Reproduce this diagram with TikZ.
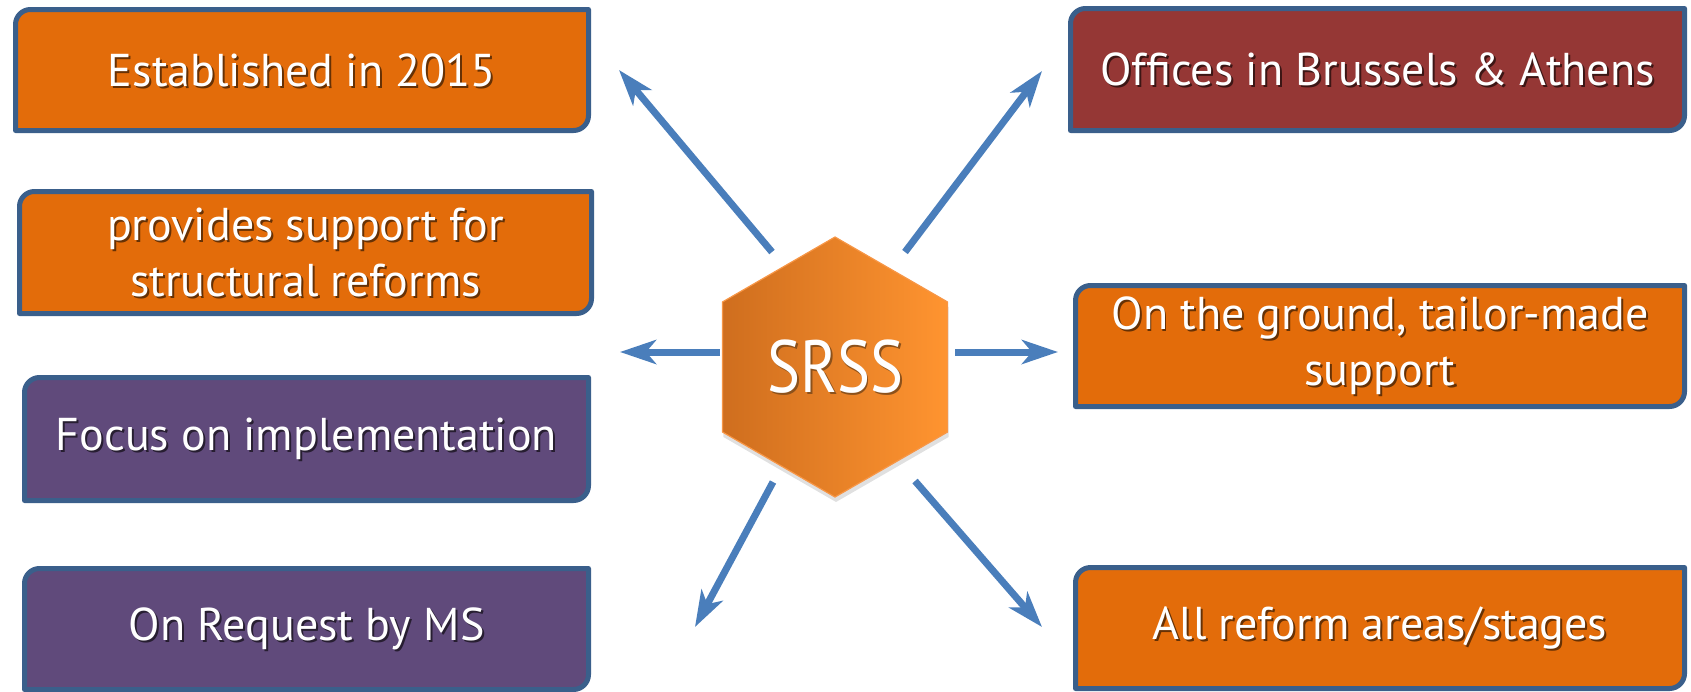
\documentclass[tikz,border=0pt]{standalone}
\usepackage{fontspec}
\setmainfont{PT Sans}
\usetikzlibrary{arrows.meta,backgrounds}
\definecolor{boxorange}{HTML}{E36C0A}
\definecolor{boxpurple}{HTML}{604A7B}
\definecolor{boxred}{HTML}{953735}
\definecolor{boxline}{HTML}{3A5F8B}
\definecolor{arrowblue}{HTML}{4A7EBB}
\definecolor{hexleft}{HTML}{CF6E1E}
\definecolor{hexright}{HTML}{FF9430}
\definecolor{hexedge}{HTML}{F79646}
\colorlet{shorange}{black!55!boxorange}
\colorlet{shpurple}{black!60!boxpurple}
\colorlet{shred}{black!60!boxred}
\colorlet{shhex}{black!45!hexright}
\newcommand\shcol{shorange}
\newcommand\sh[1]{\leavevmode\rlap{\kern1pt\raisebox{-1pt}[0pt][0pt]{\textcolor{\shcol}{#1}}}#1}
\newcommand\boxpath[2]{\path[boxframe,fill=#2] (#1.south west) -- ([yshift=-7.5pt]#1.north west) arc[start angle=180,end angle=90,radius=7.5pt] -- (#1.north east) -- ([yshift=7.5pt]#1.south east) arc[start angle=0,end angle=-90,radius=7.5pt] -- cycle;}
\tikzset{
  tbox/.style={rectangle, inner sep=0pt, outer sep=0pt, text=white, align=center,
    font=\fontsize{23}{28}\selectfont},
  orangetext/.style={tbox, execute at begin node={\renewcommand\shcol{shorange}}},
  purpletext/.style={tbox, execute at begin node={\renewcommand\shcol{shpurple}}},
  redtext/.style={tbox, execute at begin node={\renewcommand\shcol{shred}}},
  boxframe/.style={draw=boxline, line width=2.5pt, line join=round},
  arr/.style={draw=arrowblue, line width=3.5pt, -{Stealth[length=18pt,width=12pt,inset=5pt]}},
  hexnode/.style={circle, inner sep=0pt, text=white, font=\fontsize{37}{40}\selectfont,
    execute at begin node={\renewcommand\shcol{shhex}}}
}
\begin{document}
\begin{tikzpicture}[x=0.5pt,y=0.5pt]
\useasboundingbox (0,0) rectangle (1691,-691);
% text nodes
\node[orangetext, minimum width=286.5pt, minimum height=60.5pt] (b1) at (302,-70) {\sh{Established in 2015}};
\node[orangetext, minimum width=286pt, minimum height=61pt] (b2) at (305.5,-252.5) {\sh{provides support for}\\\sh{structural reforms}};
\node[purpletext, minimum width=282pt, minimum height=61.5pt] (b3) at (306.5,-439) {\sh{Focus on implementation}};
\node[purpletext, minimum width=282pt, minimum height=60.5pt] (b4) at (306.5,-629) {\sh{On Request by MS}};
\node[redtext, minimum width=307pt, minimum height=61pt] (b5) at (1377.5,-69.5) {\sh{Offices in Brussels \& Athens}};
\node[orangetext, minimum width=304.5pt, minimum height=60.5pt] (b6) at (1380,-346) {\sh{On the ground, tailor-made}\\\sh{support}};
\node[orangetext, minimum width=304.5pt, minimum height=60.5pt] (b7) at (1380,-628) {\sh{All reform areas/stages}};
\node[hexnode, minimum size=100pt] (srss) at (835,-367) {\sh{\scalebox{0.84}[1]{SRSS}}};
% box shapes and hexagon behind the text
\begin{scope}[on background layer]
  \boxpath{b1}{boxorange}
  \boxpath{b2}{boxorange}
  \boxpath{b3}{boxpurple}
  \boxpath{b4}{boxpurple}
  \boxpath{b5}{boxred}
  \boxpath{b6}{boxorange}
  \boxpath{b7}{boxorange}
  \fill[black, opacity=0.12] ([shift={(0.5pt,-2.5pt)}]srss.center) ++(90:65pt) -- ++(210:65pt) -- ++(270:65pt) -- ++(330:65pt) -- ++(30:65pt) -- ++(90:65pt) -- cycle;
  \shade[left color=hexleft, right color=hexright, draw=hexedge, line width=0.6pt]
    ([shift={(90:65pt)}]srss.center) -- ++(210:65pt) -- ++(270:65pt) -- ++(330:65pt) -- ++(30:65pt) -- ++(90:65pt) -- cycle;
\end{scope}
% arrows
\coordinate (a1s) at (772,-252); \coordinate (a1e) at (619,-70);
\coordinate (a2s) at (905,-252); \coordinate (a2e) at (1042,-71);
\coordinate (a3s) at (720,-352); \coordinate (a3e) at (620,-352);
\coordinate (a4s) at (955,-352); \coordinate (a4e) at (1058,-352);
\coordinate (a5s) at (773,-482); \coordinate (a5e) at (695,-627);
\coordinate (a6s) at (915,-481); \coordinate (a6e) at (1042,-627);
\draw[arr] (a1s) -- (a1e);
\draw[arr] (a2s) -- (a2e);
\draw[arr] (a3s) -- (a3e);
\draw[arr] (a4s) -- (a4e);
\draw[arr] (a5s) -- (a5e);
\draw[arr] (a6s) -- (a6e);
\end{tikzpicture}
\end{document}
